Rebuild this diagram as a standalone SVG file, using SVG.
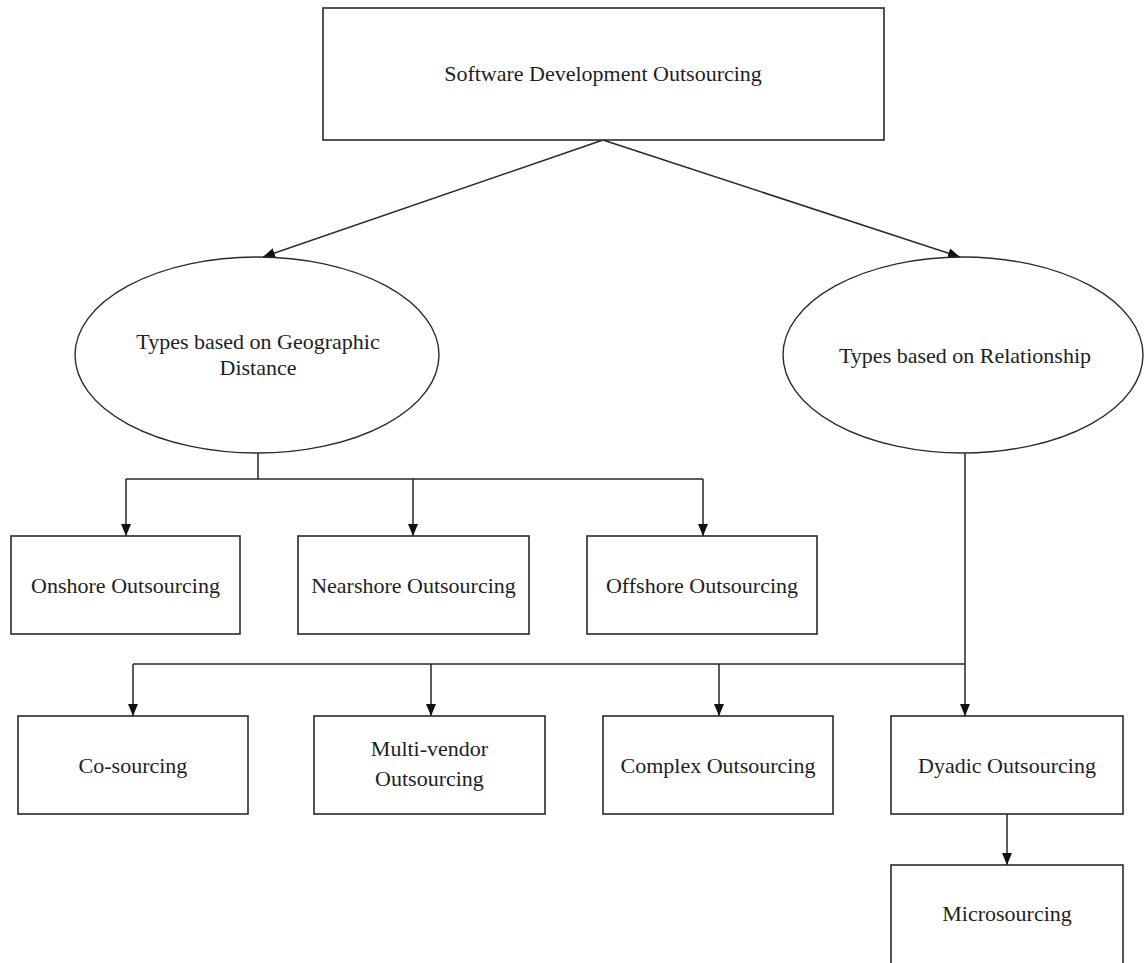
<svg xmlns="http://www.w3.org/2000/svg" width="1144" height="963" viewBox="0 0 1144 963">
  <style>
    .box { fill: #ffffff; stroke: #2a2a2a; stroke-width: 1.6; }
    .ell { fill: #ffffff; stroke: #2a2a2a; stroke-width: 1.4; }
    .lbl { font-family: "Liberation Serif", "Times New Roman", serif; font-size: 22px; fill: #1e1e1e; text-anchor: middle; }
    .con { fill: none; stroke: #262626; stroke-width: 1.5; }
    .arr { marker-end: url(#ah); }
  </style>
  <defs>
    <marker id="ah" markerUnits="userSpaceOnUse" markerWidth="12" markerHeight="10" refX="12" refY="5" orient="auto">
      <path d="M0,0 L12,5 L0,10 z" fill="#111111"/>
    </marker>
  </defs>
  <rect width="1144" height="963" fill="#ffffff"/>

  <g id="connectors">
    <path class="con arr" d="M603,140 L263,257"/>
    <path class="con arr" d="M603,140 L960,257"/>
    <path class="con" d="M258,453 V479"/>
    <path class="con" d="M126,479 H703"/>
    <path class="con arr" d="M126,479 V536"/>
    <path class="con arr" d="M413,479 V536"/>
    <path class="con arr" d="M703,479 V536"/>
    <path class="con" d="M965,453 V664"/>
    <path class="con" d="M133,664 H965"/>
    <path class="con arr" d="M133,664 V716"/>
    <path class="con arr" d="M431,664 V716"/>
    <path class="con arr" d="M719,664 V716"/>
    <path class="con arr" d="M965,664 V716"/>
    <path class="con arr" d="M1007,814 V865"/>
  </g>

  <g id="root">
    <rect class="box" x="323" y="8" width="561" height="132"/>
    <text class="lbl" x="603" y="81">Software Development Outsourcing</text>
  </g>

  <g id="geo">
    <ellipse class="ell" cx="257" cy="355" rx="182" ry="98"/>
    <text class="lbl" x="258" y="349">Types based on Geographic</text>
    <text class="lbl" x="258" y="375">Distance</text>
  </g>

  <g id="rel">
    <ellipse class="ell" cx="963" cy="355" rx="180" ry="98"/>
    <text class="lbl" x="965" y="363">Types based on Relationship</text>
  </g>

  <g id="onshore">
    <rect class="box" x="11" y="536" width="229" height="98"/>
    <text class="lbl" x="125.5" y="593">Onshore Outsourcing</text>
  </g>
  <g id="nearshore">
    <rect class="box" x="298" y="536" width="231" height="98"/>
    <text class="lbl" x="413.5" y="593">Nearshore Outsourcing</text>
  </g>
  <g id="offshore">
    <rect class="box" x="587" y="536" width="230" height="98"/>
    <text class="lbl" x="702" y="593">Offshore Outsourcing</text>
  </g>

  <g id="cosourcing">
    <rect class="box" x="18" y="716" width="230" height="98"/>
    <text class="lbl" x="133" y="773">Co-sourcing</text>
  </g>
  <g id="multivendor">
    <rect class="box" x="314" y="716" width="231" height="98"/>
    <text class="lbl" x="429.5" y="756">Multi-vendor</text>
    <text class="lbl" x="429.5" y="786">Outsourcing</text>
  </g>
  <g id="complex">
    <rect class="box" x="603" y="716" width="230" height="98"/>
    <text class="lbl" x="718" y="773">Complex Outsourcing</text>
  </g>
  <g id="dyadic">
    <rect class="box" x="891" y="716" width="232" height="98"/>
    <text class="lbl" x="1007" y="773">Dyadic Outsourcing</text>
  </g>
  <g id="microsourcing">
    <rect class="box" x="891" y="865" width="232" height="110"/>
    <text class="lbl" x="1007" y="921">Microsourcing</text>
  </g>
</svg>
